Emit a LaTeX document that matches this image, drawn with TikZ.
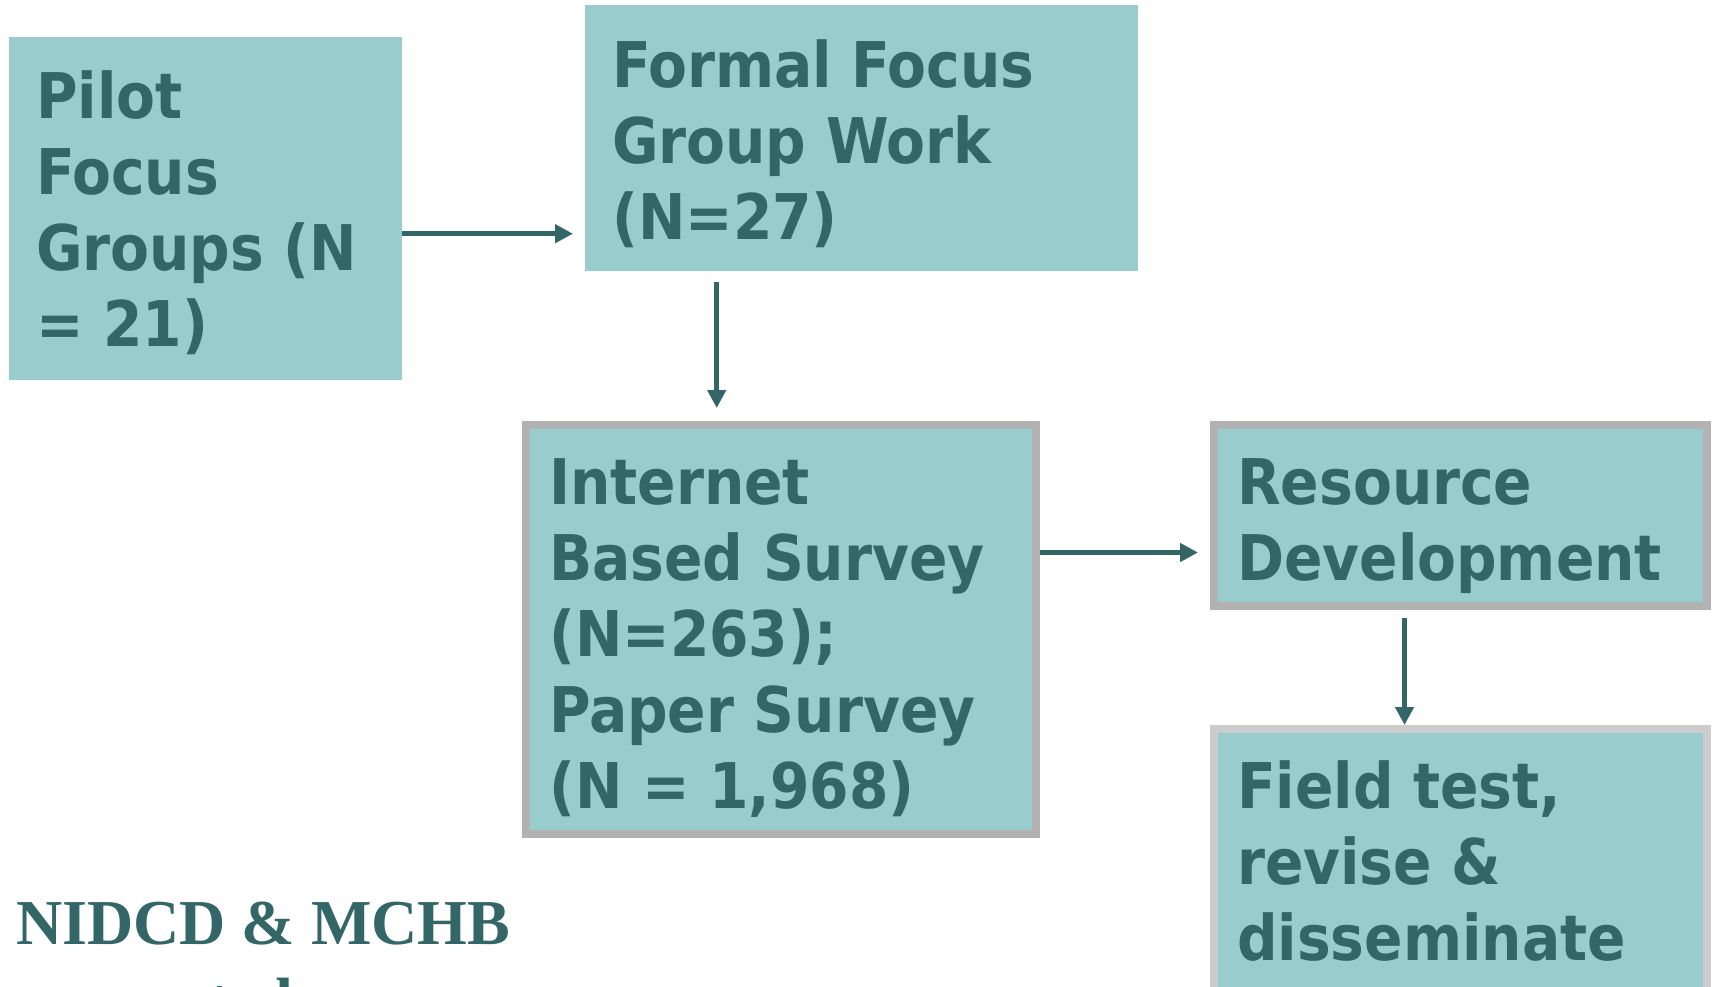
\documentclass[tikz,border=0pt]{standalone}
\usepackage{fontspec}
\usetikzlibrary{arrows.meta}
\newfontfamily\stagefont{DejaVu Sans Condensed}
\newfontfamily\notefont{Liberation Serif}
\definecolor{boxfill}{HTML}{99CCCC}
\definecolor{inkteal}{HTML}{336666}
\definecolor{framegray}{HTML}{B2B2B2}
\definecolor{framelight}{HTML}{CCCCCC}
\tikzset{
  stage/.style={rectangle, fill=boxfill, inner sep=0pt, anchor=north west},
  framed/.style={stage, line width=8pt},
  stagetext/.style={anchor=north west, inner sep=0pt, align=left, text=inkteal,
    font=\stagefont\bfseries\fontsize{63}{76}\selectfont},
  flow/.style={draw=inkteal, line width=5pt, -{Triangle[length=18pt,width=18pt]}},
}

\begin{document}
\begin{tikzpicture}[x=1pt,y=-1pt]
\useasboundingbox (0,0) rectangle (1712,986);

\node[stage, minimum width=393, minimum height=343] (pilot) at (9,37) {};
\node[stage, minimum width=553, minimum height=266] (formal) at (585,5) {};
\node[framed, draw=framegray, minimum width=510, minimum height=409] (internet) at (522,421) {};
\node[framed, draw=framegray, minimum width=493, minimum height=181] (resource) at (1210,421) {};
\node[framed, draw=framelight, minimum width=493, minimum height=300] (field) at (1210,725) {};

\node[stagetext] (pilot text) at ([shift={(27pt,-28pt)}]pilot.north west) {\strut Pilot\\Focus\\Groups (N\\= 21)};
\node[stagetext] (formal text) at ([shift={(27pt,-29pt)}]formal.north west) {\strut Formal Focus\\Group Work\\(N=27)};
\node[stagetext] (internet text) at ([shift={(27pt,-30pt)}]internet.north west) {\strut Internet\\Based Survey\\(N=263);\\Paper Survey\\(N = 1,968)};
\node[stagetext] (resource text) at ([shift={(27pt,-30pt)}]resource.north west) {\strut Resource\\Development};
\node[stagetext] (field text) at ([shift={(27pt,-30pt)}]field.north west) {\strut Field test,\\revise \&\\disseminate};

\node[anchor=north west, inner sep=0pt, align=left, text=inkteal,
  font=\notefont\bfseries\fontsize{64}{78}\selectfont] (funders) at (16,890) {\strut NIDCD \& MCHB\\supported};

\coordinate (a1) at ([yshift=-25pt]pilot.east);
\draw[flow, shorten >=12pt] (a1) -- (a1 -| formal.west);
\coordinate (a2) at ([xshift=-145pt]formal.south);
\draw[flow, shorten <=11pt, shorten >=13pt] (a2) -- (a2 |- internet.north);
\coordinate (a3) at ([yshift=77pt]internet.east);
\draw[flow, shorten >=12pt] (a3) -- (a3 -| resource.west);
\coordinate (a4) at ([xshift=-56pt]resource.south);
\draw[flow, shorten <=8pt] (a4) -- (a4 |- field.north);
\end{tikzpicture}
\end{document}
